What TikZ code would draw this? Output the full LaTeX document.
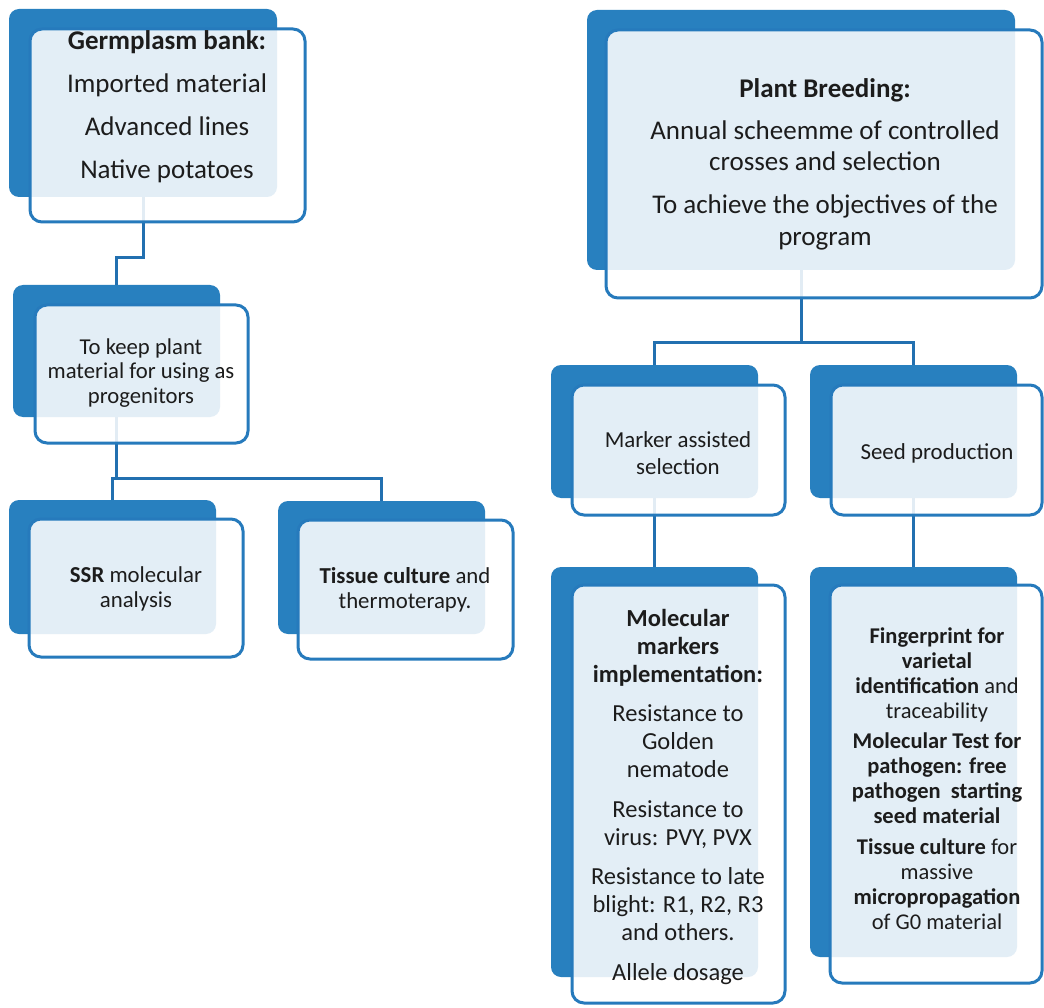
\documentclass[tikz,border=0pt]{standalone}
\usepackage{fontspec}
\setmainfont{Carlito}
\definecolor{darkbox}{RGB}{40,128,191}
\definecolor{edgeblue}{RGB}{38,122,188}
\definecolor{linkblue}{RGB}{34,112,176}
\definecolor{txt}{RGB}{28,28,28}
\begin{document}
\begin{tikzpicture}[x=1pt,y=-1pt,
  backbox/.style={fill=darkbox, draw=none, rounded corners=10pt, anchor=north west, inner sep=0pt, outer sep=0pt},
  frontbox/.style={draw=edgeblue, line width=3pt, fill=white, fill opacity=0.87, rounded corners=12pt, anchor=north west, inner sep=0pt, outer sep=0pt},
  link/.style={draw=linkblue, line width=3pt},
  lbl/.style={text=txt, align=center, inner sep=0pt}
]
\fill[white] (0,0) rectangle (1044,1008);
\useasboundingbox (0,0) rectangle (1044,1008);

% back (dark) boxes
\node[backbox, minimum width=268pt, minimum height=188pt] (d1) at (9,9) {};
\node[backbox, minimum width=207pt, minimum height=132pt] (d2) at (13,285) {};
\node[backbox, minimum width=207pt, minimum height=134pt] (d3) at (9,500) {};
\node[backbox, minimum width=207pt, minimum height=133pt] (d4) at (278,501) {};
\node[backbox, minimum width=428pt, minimum height=260pt] (d5) at (587,10) {};
\node[backbox, minimum width=207pt, minimum height=133pt] (d6) at (551,365) {};
\node[backbox, minimum width=207pt, minimum height=133pt] (d7) at (810,365) {};
\node[backbox, minimum width=207pt, minimum height=410pt] (d8) at (551,567) {};
\node[backbox, minimum width=207pt, minimum height=390pt] (d9) at (810,567) {};

% connectors
\draw[link] (d1.south) -- (d1.south |- 0,258) -| (d2.north);
\draw[link] (d2.south) -- (d2.south |- 0,478);
\draw[link] (d3.north) |- (d4.north |- 0,478) -- (d4.north);
\draw[link] (d5.south) -- (d5.south |- 0,342);
\draw[link] (d6.north) |- (d7.north |- 0,342) -- (d7.north);
\draw[link] (d6.south) -- (d8.north);
\draw[link] (d7.south) -- (d9.north);

% front boxes
\node[frontbox, minimum width=275pt, minimum height=193pt] (b1) at (30,29) {};
\node[frontbox, minimum width=213pt, minimum height=138pt] (b2) at (35,305) {};
\node[frontbox, minimum width=214pt, minimum height=138pt] (b3) at (29,519) {};
\node[frontbox, minimum width=215pt, minimum height=139pt] (b4) at (298,520) {};
\node[frontbox, minimum width=436pt, minimum height=268pt] (b5) at (606,30) {};
\node[frontbox, minimum width=213pt, minimum height=130pt] (b6) at (572,385) {};
\node[frontbox, minimum width=211pt, minimum height=130pt] (b7) at (831,385) {};
\node[frontbox, minimum width=213pt, minimum height=418pt] (b8) at (572,585) {};
\node[frontbox, minimum width=212pt, minimum height=398pt] (b9) at (830,585) {};

% texts
\node[lbl, font=\fontsize{27}{43}\selectfont] (t1) at (167,107)
  {\textbf{Germplasm bank:}\\Imported material\\Advanced lines\\Native potatoes};
\node[lbl, font=\fontsize{22.7}{24.5}\selectfont] (t2) at (141,373)
  {To keep plant\\material for using as\\progenitors};
\node[lbl, font=\fontsize{22.8}{25.5}\selectfont] (t3) at (136,589)
  {\textbf{SSR} molecular\\analysis};
\node[lbl, font=\fontsize{22.8}{25.5}\selectfont] (t4) at (405,590)
  {\textbf{Tissue culture} and\\thermoterapy.};
\node[lbl, font=\fontsize{27}{31.5}\selectfont] (t5) at (825,164)
  {\textbf{Plant Breeding:}\\[10.5pt]Annual scheemme of controlled\\crosses and selection\\[11.5pt]To achieve the objectives of the\\program};
\node[lbl, font=\fontsize{22.9}{26.5}\selectfont] (t6) at (678,453)
  {Marker assisted\\selection};
\node[lbl, font=\fontsize{22.9}{26.5}\selectfont] (t7) at (937,453)
  {Seed production};
\node[lbl, font=\fontsize{24.5}{28}\selectfont] (t8) at (678,797)
  {\textbf{Molecular}\\\textbf{markers}\\\textbf{implementation:}\\[11pt]Resistance to\\Golden\\nematode\\[12pt]Resistance to\\virus: PVY, PVX\\[11pt]Resistance to late\\blight: R1, R2, R3\\and others.\\[12pt]Allele dosage};
\node[lbl, font=\fontsize{22.5}{25}\selectfont] (t9) at (937,779)
  {\textbf{Fingerprint for}\\\textbf{varietal}\\\textbf{identification} and\\traceability\\[5pt]\textbf{Molecular Test for}\\\textbf{pathogen: free}\\\textbf{pathogen~ starting}\\\textbf{seed material}\\[6pt]\textbf{Tissue culture} for\\massive\\\textbf{micropropagation}\\of G0 material};
\end{tikzpicture}
\end{document}
